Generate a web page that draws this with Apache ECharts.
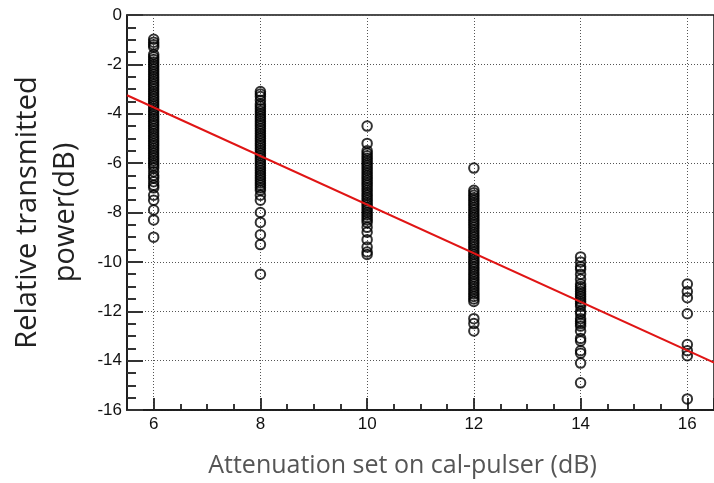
<!DOCTYPE html>
<html>
<head>
<meta charset="utf-8">
<script src="https://cdn.jsdelivr.net/npm/echarts@6/dist/echarts.min.js"></script>
<style>html,body{margin:0;padding:0;background:#fff;}#c{width:714px;height:483px;}</style>
</head>
<body>
<div id="c"></div>
<script>
const xCategories = [6, 8, 10, 12, 14, 16];
const att6 = [-0.98, -1.1, -1.2, -1.3, -1.6, -1.7, -1.8, -1.9, -2.0, -2.1, -2.2, -2.3, -2.4, -2.5, -2.6, -2.7, -2.8, -2.9, -3.0, -3.1, -3.2, -3.3, -3.4, -3.5, -3.6, -3.7, -3.8, -3.9, -4.0, -4.1, -4.2, -4.3, -4.4, -4.5, -4.6, -4.7, -4.8, -4.9, -5.0, -5.1, -5.2, -5.3, -5.4, -5.5, -5.6, -5.7, -5.8, -5.9, -6.0, -6.1, -6.2, -6.35, -6.5, -6.6, -6.75, -6.9, -7.0, -7.3, -7.5, -7.9, -8.3, -9.0];
const att8 = [-3.1, -3.2, -3.3, -3.45, -3.6, -3.7, -3.8, -3.9, -4.0, -4.1, -4.2, -4.3, -4.4, -4.5, -4.6, -4.7, -4.8, -4.9, -5.0, -5.1, -5.2, -5.3, -5.4, -5.5, -5.6, -5.7, -5.8, -5.9, -6.0, -6.1, -6.2, -6.3, -6.4, -6.5, -6.6, -6.7, -6.8, -6.9, -7.0, -7.1, -7.3, -7.5, -8.0, -8.4, -8.9, -9.3, -10.5];
const att10 = [-4.5, -5.2, -5.5, -5.6, -5.7, -5.8, -5.9, -6.0, -6.1, -6.2, -6.3, -6.4, -6.5, -6.6, -6.7, -6.8, -6.9, -7.0, -7.1, -7.2, -7.3, -7.4, -7.5, -7.6, -7.7, -7.8, -7.9, -8.0, -8.1, -8.2, -8.3, -8.4, -8.6, -8.8, -9.1, -9.4, -9.6, -9.7];
const att12 = [-6.2, -7.1, -7.2, -7.3, -7.4, -7.5, -7.6, -7.7, -7.8, -7.9, -8.0, -8.1, -8.2, -8.3, -8.4, -8.5, -8.6, -8.7, -8.8, -8.9, -9.0, -9.1, -9.2, -9.3, -9.4, -9.5, -9.6, -9.7, -9.8, -9.9, -10.0, -10.1, -10.2, -10.3, -10.4, -10.5, -10.6, -10.7, -10.8, -10.9, -11.0, -11.1, -11.2, -11.3, -11.4, -11.5, -11.6, -12.3, -12.5, -12.8];
const att14 = [-9.8, -10.0, -10.2, -10.3, -10.5, -10.7, -10.9, -11.0, -11.1, -11.2, -11.3, -11.4, -11.5, -11.6, -11.7, -11.8, -12.0, -12.1, -12.3, -12.4, -12.5, -12.6, -12.8, -13.1, -13.2, -13.6, -13.7, -14.1, -14.9];
const att16 = [-10.9, -11.2, -11.45, -12.1, -13.35, -13.6, -13.8, -15.55];
const fitX = [5.5, 16.5];
const fitY = [-3.25, -14.08];
const yTicks = [0, -2, -4, -6, -8, -10, -12, -14, -16];

const columns = [att6, att8, att10, att12, att14, att16];
const pts = [];
columns.forEach((arr, i) => arr.forEach(v => pts.push([xCategories[i], v])));
const fitData = fitX.map((x, i) => [x, fitY[i]]);

const chart = echarts.init(document.getElementById('c'), null, {renderer: 'canvas'});
chart.setOption({
  animation: false,
  backgroundColor: '#fff',
  grid: {left: 127, top: 15, right: -7, bottom: 68, show: true, borderColor: '#111', borderWidth: 1.5, backgroundColor: 'transparent'},
  xAxis: {
    type: 'value', min: 5.5, max: 16.5, splitNumber: 5,
    name: 'Attenuation set on cal-pulser (dB)', nameLocation: 'middle', nameGap: 43,
    nameTextStyle: {fontFamily: 'Open Sans', fontSize: 25, color: '#555', padding: [0, 36, 0, 0]},
    axisLine: {show: true, onZero: false, lineStyle: {color: '#111', width: 1.5}},
    axisTick: {show: true, inside: true, length: 12, lineStyle: {color: '#222', width: 1.8}},
    minorTick: {show: true, splitNumber: 4, length: 6, lineStyle: {color: '#222', width: 1.8}},
    axisLabel: {showMinLabel: false, showMaxLabel: false, fontFamily: 'Liberation Sans', fontSize: 17, color: '#111', margin: 6},
    splitLine: {show: true, lineStyle: {color: '#555', type: [1, 2], width: 1}}
  },
  yAxis: {
    type: 'value', min: -16, max: 0, interval: 2,
    name: 'Relative transmitted\npower(dB)', nameLocation: 'middle', nameGap: 42, nameRotate: 90,
    nameTextStyle: {fontFamily: 'Open Sans', fontSize: 29, color: '#222', lineHeight: 38},
    axisLine: {show: true, onZero: false, lineStyle: {color: '#111', width: 1.5}},
    axisTick: {show: true, inside: true, length: 16, lineStyle: {color: '#333', width: 2}},
    minorTick: {show: true, splitNumber: 4, length: 9, lineStyle: {color: '#333', width: 2}},
    axisLabel: {fontFamily: 'Liberation Sans', fontSize: 17, color: '#111', margin: 5,
      formatter: v => yTicks.indexOf(v) >= 0 ? String(v) : ''},
    splitLine: {show: true, lineStyle: {color: '#555', type: [1, 2], width: 1}}
  },
  series: [
    {type: 'scatter', data: pts, symbol: 'circle', symbolSize: 9.5,
     itemStyle: {color: 'rgba(0,0,0,0)', borderColor: '#000', borderWidth: 2}, z: 2},
    {type: 'line', data: fitData, showSymbol: false, symbol: 'none',
     lineStyle: {color: '#e01515', width: 2}, z: 5}
  ]
});
</script>
</body>
</html>
